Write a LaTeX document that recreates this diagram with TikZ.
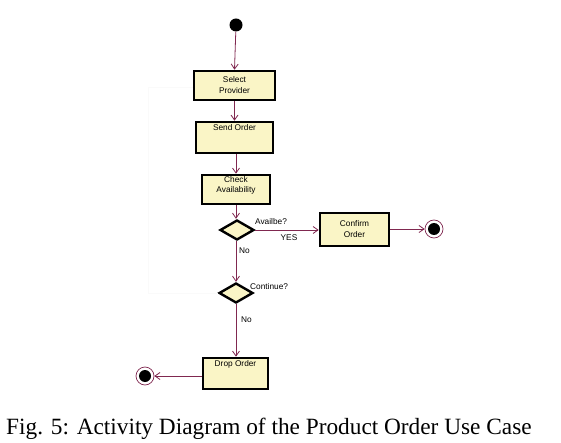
\documentclass[tikz,border=0pt]{standalone}
\usepackage{fontspec}
\setmainfont{Liberation Serif}
\setsansfont{Liberation Sans}
\usetikzlibrary{shapes.geometric,arrows.meta}
\definecolor{boxfill}{RGB}{250,245,198}
\definecolor{flow}{RGB}{128,40,80}
\tikzset{
  actbox/.style={draw=black,line width=2.6pt,fill=boxfill,inner sep=0pt},
  decis/.style={draw=black,line width=2.4pt,fill=boxfill,diamond,inner sep=0pt,minimum width=34pt,minimum height=20pt,aspect=1.7},
  lbl/.style={font=\sffamily\fontsize{8.3}{9}\selectfont,align=center,inner sep=0pt},
  flowarrow/.style={draw=flow,line width=0.8pt,-{Straight Barb[length=5pt,width=7pt,line width=0.8pt]}},
  startdot/.style={circle,fill=black,minimum size=13pt,inner sep=0pt},
  endring/.style={circle,draw=flow,line width=0.7pt,fill=white,minimum size=18pt,inner sep=0pt},
  enddot/.style={circle,fill=black,minimum size=12pt,inner sep=0pt},
}
\begin{document}
\begin{tikzpicture}[x=1pt,y=-1pt]
\useasboundingbox[fill=white] (0,0) rectangle (561,443);
% faint loop-back trace
\coordinate (lpa) at (148,293);
\coordinate (lpb) at (148,88);
% nodes
\node[startdot] (start) at (236,25) {};
\node[actbox,minimum width=81pt,minimum height=29pt] (sp) at (234.5,85.5) {};
\node[lbl] (sptxt) at (sp.center) {Select\\[2pt]Provider};
\node[actbox,minimum width=77pt,minimum height=31pt] (so) at (234.5,137.5) {};
\node[lbl,anchor=north] (sotxt) at ([yshift=-4pt]so.north) {Send Order};
\node[actbox,minimum width=68pt,minimum height=29pt] (ca) at (236,189.5) {};
\node[lbl,anchor=north] (catxt) at ([yshift=-2.5pt]ca.north) {Check\\[1pt]Availability};
\node[decis] (d1) at (237,230) {};
\node[actbox,minimum width=69pt,minimum height=33pt] (co) at (354.5,229.5) {};
\node[lbl] (cotxt) at (co.center) {Confirm\\[2pt]Order};
\node[endring] (endr) at (434,229) {};
\node[enddot] (endrd) at (endr.center) {};
\node[decis] (d2) at (236,293) {};
\node[actbox,minimum width=65pt,minimum height=31pt] (dr) at (235.5,373.5) {};
\node[lbl,anchor=north] (drtxt) at ([yshift=-4pt]dr.north) {Drop Order};
\node[endring] (endl) at (145,376) {};
\node[enddot] (endld) at (endl.center) {};
% labels
\node[lbl,anchor=west] (q1) at (255,222) {Availbe?};
\node[lbl] (yes) at (289,238) {YES};
\node[lbl,anchor=west] (no1) at (239,251) {No};
\node[lbl,anchor=west] (q2) at (250,287) {Continue?};
\node[lbl,anchor=west] (no2) at (241,320) {No};
% connectors
\draw[black!2,line width=1pt] (d2.west) -- (lpa) -- (lpb) -- (sp.west |- lpb);
\draw[flowarrow] (start) -- (sp.north);
\draw[flowarrow] (sp.south) -- (so.north);
\draw[flowarrow] (so.south -| ca.north) -- (ca.north);
\draw[flowarrow] (ca.south) -- (d1.north -| ca.south);
\draw[flowarrow] (d1.east) -- (co.west |- d1.east);
\draw[flowarrow] (co.east |- endr) -- (endr.west);
\draw[flowarrow] (d1.south -| d2.north) -- (d2.north);
\draw[flowarrow] (d2.south) -- (dr.north -| d2.south);
\draw[flowarrow] (dr.west |- endl) -- (endl.east);
% caption
\node[font=\fontsize{23.3}{26}\selectfont,anchor=base west,inner sep=0pt] (cap) at (6,434) {Fig. 5: Activity Diagram of the Product Order Use Case};
\end{tikzpicture}
\end{document}
